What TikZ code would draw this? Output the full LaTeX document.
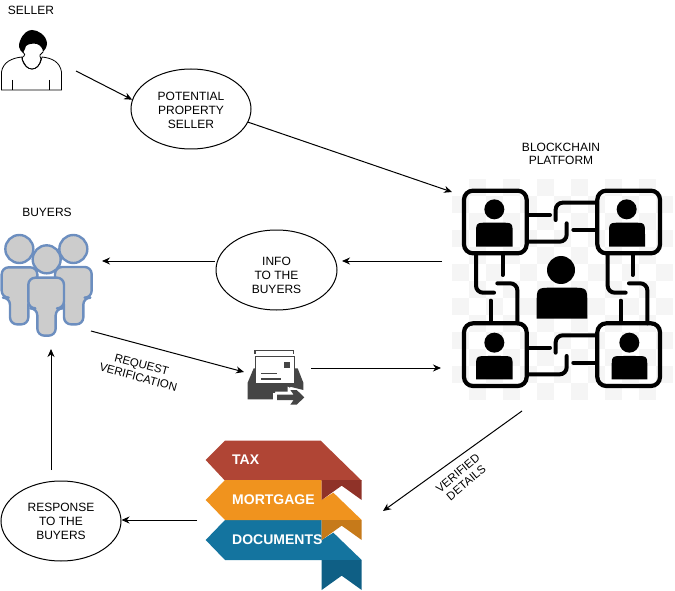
\documentclass[tikz,border=0pt]{standalone}
\usepackage{fontspec}
\setmainfont{Liberation Sans}
\usetikzlibrary{arrows.meta,shapes.geometric}
\definecolor{taxmain}{HTML}{B04535}
\definecolor{taxdark}{HTML}{8F3228}
\definecolor{ormain}{HTML}{F0931E}
\definecolor{ordark}{HTML}{C67A1A}
\definecolor{blmain}{HTML}{14749F}
\definecolor{bldark}{HTML}{0F5F85}
\definecolor{buyfill}{HTML}{CCCCCC}
\definecolor{buyline}{HTML}{6C8EBF}
\definecolor{trayc}{HTML}{454545}
\tikzset{
  x=1pt,y=-1pt,
  lab/.style={font=\fontsize{12}{13.5}\selectfont,align=center,inner sep=0pt,text=black},
  rotlab/.style={font=\fontsize{11.5}{13}\selectfont,align=center,inner sep=0pt,text=black},
  oval/.style={ellipse,draw=black,line width=1pt,fill=white,inner sep=0pt,minimum width=120pt,minimum height=80pt,font=\fontsize{12}{14}\selectfont,align=center},
  conn/.style={draw=black,line width=1pt,-{Stealth[length=8pt,width=7pt]}},
  ribtext/.style={font=\fontsize{14}{14}\bfseries\selectfont,text=white,inner sep=0pt,anchor=west},
  netline/.style={line width=4pt,line cap=round,draw=black},
  buyer/.style={fill=buyfill,draw=buyline,line width=2.4pt,rounded corners=7pt,line join=round},
  buyhead/.style={fill=buyfill,draw=buyline,line width=2.4pt},
}
\newcommand{\netbody}[5]{% xl xr top bottom radius
  \fill[black] (#1,#4) -- ({#1},{#3+#5}) .. controls (#1,#3) and (#1,#3) .. ({#1+#5},#3) -- ({#2-#5},#3) .. controls (#2,#3) and (#2,#3) .. (#2,{#3+#5}) -- (#2,#4) -- cycle;
}
\newcommand{\buyerfig}[7]{% xl xr yt yb ll lr bot
  \path[buyer] (#1,#3) -- (#2,#3) -- (#2,#4) -- (#6,#4) -- (#6,#7) -- (#5,#7) -- (#5,#4) -- (#1,#4) -- cycle;
}
\newcommand{\ovaltext}[2]{\raisebox{#1}[0pt][0pt]{\begin{tabular}{@{}c@{}}#2\end{tabular}}}
\begin{document}
\begin{tikzpicture}
\useasboundingbox (0,0) rectangle (675,591);
% checker background
\foreach \i in {0,...,12}{\foreach \j in {0,...,12}{
  \pgfmathtruncatemacro{\parity}{mod(\i+\j,2)}
  \ifnum\parity=1
    \fill[black!4] ({452+\i*17},{179+\j*17}) rectangle ({452+\i*17+17},{179+\j*17+17});
  \fi
}}
% network icon
\begin{scope}[shift={(440,170)},scale=1/3]
  \foreach \x/\y in {72/62,472/62,72/460,472/460}{
    \draw[line width=4.2pt,rounded corners=9pt] (\x,\y) rectangle ({\x+188},{\y+188});
  }
  \foreach \dy in {0,398}{
    \draw[netline,rounded corners=7pt] (470,98+\dy) -- (347,98+\dy) -- (347,150+\dy);
    \draw[netline] (268,135+\dy) -- (330,135+\dy);
    \draw[netline,rounded corners=7pt] (268,215+\dy) -- (380,215+\dy) -- (380,160+\dy);
    \draw[netline] (400,180+\dy) -- (470,180+\dy);
  }
  \foreach \dx/\ex in {0/0,395/390}{
    \draw[netline,rounded corners=7pt] (108+\dx,250) -- (108+\dx,368) -- (162+\dx,368);
    \draw[netline] (188+\ex,255) -- (188+\ex,315);
    \draw[netline,rounded corners=7pt] (172+\dx,340) -- (232+\ex,340) -- (232+\ex,460);
    \draw[netline] (152+\ex,392) -- (152+\ex,455);
  }
  \fill[black] (163,118) circle (30);
  \netbody{108}{218}{158}{230}{36}
  \fill[black] (560,118) circle (30);
  \netbody{507}{615}{158}{230}{36}
  \fill[black] (163,518) circle (30);
  \netbody{108}{218}{558}{628}{36}
  \fill[black] (568,518) circle (30);
  \netbody{515}{622}{558}{628}{36}
  \fill[black] (363,300) circle (42);
  \netbody{290}{442}{353}{446}{50}
\end{scope}
% seller icon
\draw[black,line width=0.8pt,fill=white] (1.5,90) -- (1.5,72) .. controls (3,62) and (12,58) .. (22,57) .. controls (24,66) and (28,69) .. (32,69) .. controls (36,69) and (40,66) .. (42,57) .. controls (52,58) and (60,62) .. (61.5,72) -- (61.5,90) -- cycle;
\draw[black,line width=0.8pt] (12,80) -- (12,90) (49,80) -- (49,90);
\fill[white] (23,50) -- (44,50) -- (40,56) -- (40,60) -- (32,69) -- (23,60) -- cycle;
\draw[black,line width=0.8pt] (23,52) .. controls (24,54) and (26,55) .. (24,56) .. controls (22,57) and (22,58) .. (22,59) .. controls (24,66) and (28,69) .. (32,69) .. controls (36,69) and (40,66) .. (41,59) .. controls (41,57) and (39,56) .. (40,55) -- (43,52);
\fill[black] (23,53) .. controls (19,50) and (18,45) .. (20,41) .. controls (23,33) and (28,30) .. (32,30) .. controls (38,30) and (46,35) .. (47,43) .. controls (47,47) and (45,50) .. (43,52) .. controls (43,48) and (40,45) .. (37,44) .. controls (33,43) and (28,44) .. (26,46) .. controls (25,48) and (25,50) .. (23,53) -- cycle;
% buyers icon
\begin{scope}[shift={(0,225)},scale=1/3]
  \buyerfig{5}{112}{127}{218}{30}{85}{298}
  \draw[buyhead] (58,72) circle (42);
  \buyerfig{165}{275}{126}{218}{192}{250}{298}
  \draw[buyhead] (220,72) circle (42);
  \draw[buyhead] (140,103) circle (42);
  \buyerfig{85}{192}{158}{250}{112}{167}{332}
\end{scope}
% inbox icon
\begin{scope}[shift={(235,340)},scale=1/3]
  \draw[trayc,line width=1.6pt] (60,42) -- (60,32) -- (176,32) -- (176,42);
  \fill[trayc] (56,85) -- (38,128) -- (38,178) -- (120,178) -- (120,155) -- (165,155) -- (165,140) -- (205,150) -- (205,128) -- (188,85) -- cycle;
  \draw[trayc,line width=1.6pt,fill=white] (62,50) rectangle (178,130);
  \fill[trayc] (148,65) rectangle (165,85);
  \draw[trayc,line width=1.6pt] (78,100) -- (125,100) (78,117) -- (138,117);
  \fill[white] (115,158) rectangle (165,186);
  \fill[white] (158,140) -- (222,172) -- (158,204) -- cycle;
  \fill[trayc] (126,164) -- (176,164) -- (166,150) -- (185,150) -- (208,172) -- (185,194) -- (166,194) -- (176,180) -- (126,180) -- cycle;
\end{scope}
% ribbons
\begin{scope}[shift={(190,430)},scale=1/3]
  \fill[taxmain] (47,90) -- (105,32) -- (392,32) -- (515,152) -- (105,152) -- cycle;
  \fill[blmain] (47,330) -- (105,270) -- (395,270) -- (395,330) -- (430,308) -- (515,390) -- (105,390) -- cycle;
  \fill[bldark] (395,390) -- (515,390) -- (515,480) -- (455,437) -- (395,480) -- cycle;
  \fill[ormain] (47,210) -- (105,150) -- (395,150) -- (395,210) -- (430,188) -- (515,270) -- (105,270) -- cycle;
  \fill[ordark] (395,270) -- (515,270) -- (515,330) -- (455,287) -- (395,330) -- cycle;
  \fill[taxdark] (395,150) -- (515,150) -- (515,210) -- (455,167) -- (395,210) -- cycle;
\end{scope}
\node[ribtext] (rtax) at (232,460) {TAX};
\node[ribtext] (rmort) at (232,500) {MORTGAGE};
\node[ribtext] (rdocs) at (232,540) {DOCUMENTS};
% labels
\node[lab] (lseller) at (31,10) {SELLER};
\node[lab] (lbuyers) at (47,212) {BUYERS};
\node[lab] (lchain) at (561,154) {BLOCKCHAIN\\PLATFORM};
\node[rotlab,rotate=-15] (lreq) at (140,371) {REQUEST\\VERIFICATION};
\node[rotlab,rotate=40] (lver) at (462,478) {VERIFIED\\DETAILS};
% ellipses
\node[oval] (potential) at (191,109) {\ovaltext{-6pt}{POTENTIAL\\PROPERTY\\SELLER}};
\node[oval,minimum width=121pt] (info) at (276.5,270) {\ovaltext{-9.5pt}{INFO\\TO THE\\BUYERS}};
\node[oval] (response) at (61,521) {\ovaltext{-4.5pt}{RESPONSE\\TO THE\\BUYERS}};
% connector ends
\coordinate (sellerout) at (76,71);
\coordinate (chainin) at (452,192);
\coordinate (chainout) at (442,261);
\coordinate (infoin) at (342,261);
\coordinate (infoout) at (215,261);
\coordinate (buyersin) at (102,261);
\coordinate (buyersout) at (91,331);
\coordinate (trayin) at (244,372);
\coordinate (trayout) at (311,368);
\coordinate (chainin2) at (441,368);
\coordinate (chainout2) at (522,411);
\coordinate (ribbonin) at (383,511);
\coordinate (ribbonout) at (197,520);
\coordinate (buyersin2) at (51,349);
\coordinate (responseout) at (51,470);
\path[conn] (sellerout) -- (potential.171);
\path[conn] (potential.-13) -- (chainin);
\path[conn] (chainout) -- (infoin);
\path[conn] (infoout) -- (buyersin);
\path[conn] (buyersout) -- (trayin);
\path[conn] (trayout) -- (chainin2);
\path[conn] (chainout2) -- (ribbonin);
\path[conn] (ribbonout) -- (response.east |- ribbonout);
\path[conn] (responseout) -- (buyersin2);
\end{tikzpicture}
\end{document}
